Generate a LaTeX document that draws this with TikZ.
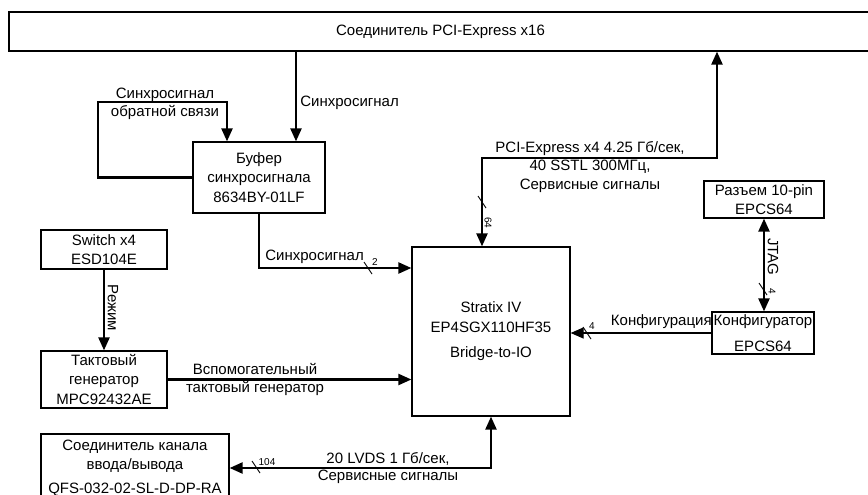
\documentclass[tikz,border=0pt]{standalone}
\usepackage{fontspec}
\setmainfont{Liberation Sans}
\usetikzlibrary{arrows.meta}

\tikzset{every picture/.style={line width=0.75pt}}
\tikzset{
  >={Triangle[length=13pt,width=11pt]},
  block/.style={draw, line width=1.2pt, inner sep=0pt, align=center,
    font=\fontsize{15}{19.5}\selectfont},
  lbl/.style={inner sep=0pt, align=center, font=\fontsize{15}{18.5}\selectfont},
  busnum/.style={inner sep=0pt, font=\fontsize{10}{10}\selectfont},
  bus/.style={line width=2.2pt, ->},
  bibus/.style={line width=2.2pt, <->},
  thinbus/.style={line width=1.2pt, ->},
  pics/slash/.style={code={\draw[line width=0.9pt] (-4,6) -- (4,-6);}}
}

\begin{document}
\begin{tikzpicture}[x=1pt,y=1pt,yscale=-1,xscale=1]
\clip (0,0) rectangle (868,495);

%Shape: Rectangle
\node[block, minimum width=863pt, minimum height=39pt] (pcie) at (440.5,31.5) {Соединитель PCI-Express x16};
%Shape: Rectangle
\node[block, minimum width=132pt, minimum height=71pt] (buf) at (259,177.5) {Буфер\\синхросигнала\\8634BY-01LF};
%Shape: Rectangle
\node[block, minimum width=126pt, minimum height=39pt] (sw) at (104,249.5) {Switch x4\\ESD104E};
%Shape: Rectangle
\node[block, minimum width=126pt, minimum height=57pt] (gen) at (104,379.5) {Тактовый\\генератор\\MPC92432AE};
%Shape: Rectangle
\node[block, minimum width=188pt, minimum height=68pt] (io) at (135,468) {Соединитель канала\\ввода/вывода\\[4pt]QFS-032-02-SL-D-DP-RA};
%Shape: Rectangle
\node[block, minimum width=158pt, minimum height=169pt] (fpga) at (491,331.5) {Stratix IV\\EP4SGX110HF35\\[6pt]Bridge-to-IO};
%Shape: Rectangle
\node[block, minimum width=120pt, minimum height=37pt] (jtagconn) at (764,199.5) {Разъем 10-pin\\EPCS64};
%Shape: Rectangle
\node[block, minimum width=102pt, minimum height=42pt] (cfg) at (763,333) {Конфигуратор\\[6pt]EPCS64};

% bends of the connectors
\coordinate (syncx) at (296,0);
\coordinate (fbk) at (98,102);
\coordinate (fbkx) at (227,0);
\coordinate (syncy) at (0,268);
\coordinate (pcix) at (482,0);
\coordinate (pcibend) at (717,158);

%Straight Lines
\draw[bus] (pcie.south -| syncx) -- (buf.north -| syncx);
%Straight Lines
\draw[bus] (buf.west) -| (fbk) -| (buf.north -| fbkx);
%Straight Lines
\draw[bus] (buf.south) |- (fpga.west |- syncy);
%Straight Lines
\draw[bus] (sw.south) -- (gen.north);
%Straight Lines
\draw[bus] (gen.east) -- (gen.east -| fpga.west);
%Straight Lines
\draw[bibus] (io.east) -| (fpga.south);
%Straight Lines
\draw[bibus] (fpga.north -| pcix) |- (pcibend) -- (pcie.south -| pcibend);
%Straight Lines
\draw[bibus] (jtagconn.south) -- (jtagconn.south |- cfg.north);
%Straight Lines
\draw[thinbus] (cfg.west) -- (cfg.west -| fpga.east);

% bus widths
\pic at (368,268) {slash};
\node[busnum] (w2) at (375,262) {2};
\pic at (256,467) {slash};
\node[busnum] (w104) at (267,462) {104};
\pic at (482,202) {slash};
\node[busnum, rotate=-90] (w64) at (488,223) {64};
\pic at (763,289) {slash};
\node[busnum, rotate=-90] (wjtag) at (772,291) {4};
\pic at (587,333) {slash};
\node[busnum] (wcfg) at (592,326) {4};

% Text Node
\node[lbl, anchor=west] (lblsync) at (300,103) {Синхросигнал};
% Text Node
\node[lbl] (lblfbk) at (165,104) {Синхросигнал\\обратной связи};
% Text Node
\node[lbl, anchor=west] (lblsync2) at (265,257) {Синхросигнал};
% Text Node
\node[lbl, rotate=-90] (lblmode) at (113,308) {Режим};
% Text Node
\node[lbl] (lblaux) at (255,379.5) {Вспомогательный\\тактовый генератор};
% Text Node
\node[lbl] (lbllvds) at (388,468.5) {20 LVDS 1 Гб/сек,\\[-1.5pt]Сервисные сигналы};
% Text Node
\node[lbl] (lblpci) at (590,167) {PCI-Express x4 4.25 Гб/сек,\\40 SSTL 300МГц,\\Сервисные сигналы};
% Text Node
\node[lbl, rotate=-90] (lbljtag) at (773,257) {JTAG};
% Text Node
\node[lbl, anchor=east] (lblcfg) at (712,322) {Конфигурация};

\end{tikzpicture}
\end{document}
